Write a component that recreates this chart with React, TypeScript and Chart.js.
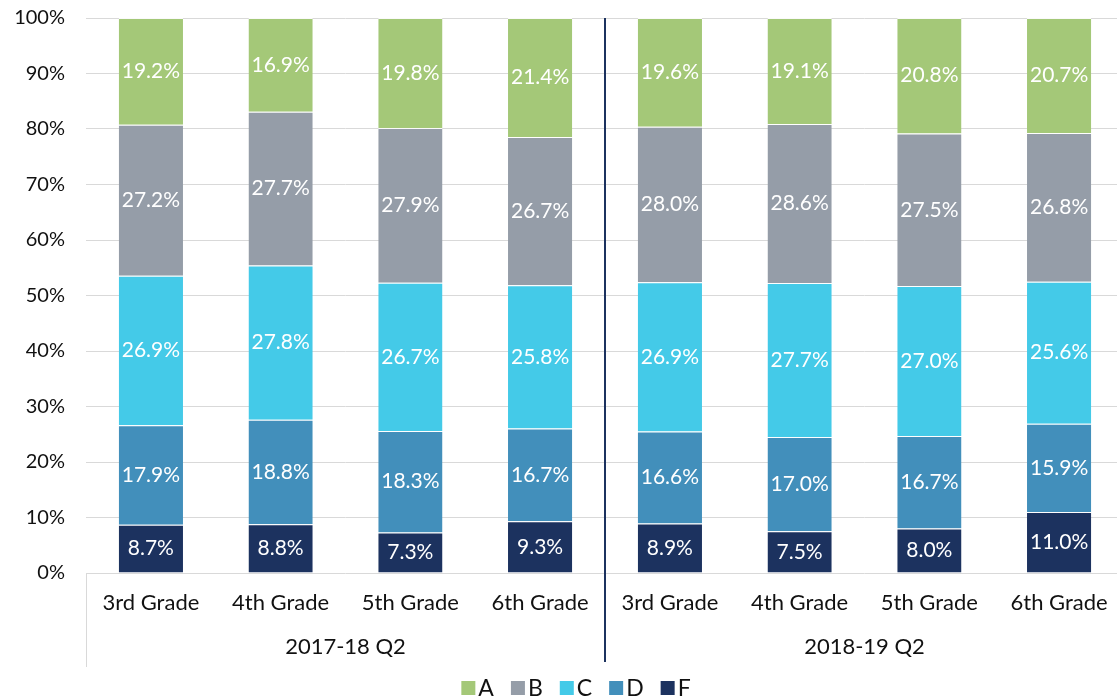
import React, { useEffect, useRef } from "react";
import { Chart, registerables } from "chart.js";

Chart.register(...registerables);

const grades = ["3rd Grade", "4th Grade", "5th Grade", "6th Grade", "3rd Grade", "4th Grade", "5th Grade", "6th Grade"];
const groups = ["2017-18 Q2", "2018-19 Q2"];
const yTicks = [0, 10, 20, 30, 40, 50, 60, 70, 80, 90, 100];

const seriesF = [8.7, 8.8, 7.3, 9.3, 8.9, 7.5, 8.0, 11.0];
const seriesD = [17.9, 18.8, 18.3, 16.7, 16.6, 17.0, 16.7, 15.9];
const seriesC = [26.9, 27.8, 26.7, 25.8, 26.9, 27.7, 27.0, 25.6];
const seriesB = [27.2, 27.7, 27.9, 26.7, 28.0, 28.6, 27.5, 26.8];
const seriesA = [19.2, 16.9, 19.8, 21.4, 19.6, 19.1, 20.8, 20.7];

const FONT = "Lato, 'Open Sans', sans-serif";

const legendItems = [
  { label: "A", color: "#A4C878" },
  { label: "B", color: "#959DA8" },
  { label: "C", color: "#44CAE8" },
  { label: "D", color: "#428FBB" },
  { label: "F", color: "#1C325F" },
];

const allSeries = [seriesF, seriesD, seriesC, seriesB, seriesA];
const totals = grades.map((_, j) => allSeries.reduce((s, arr) => s + arr[j], 0));
const share = (arr: number[]) => arr.map((v, j) => (v / totals[j]) * 100);

const overlayPlugin = {
  id: "overlay",
  afterDatasetsDraw(chart: any) {
    const ctx = chart.ctx;
    ctx.save();
    ctx.font = `21px ${FONT}`;
    ctx.fillStyle = "#ffffff";
    ctx.textAlign = "center";
    ctx.textBaseline = "middle";
    chart.data.datasets.forEach((ds: any, i: number) => {
      const meta = chart.getDatasetMeta(i);
      meta.data.forEach((el: any, j: number) => {
        const v = ds.raw[j];
        const y = (el.y + el.base) / 2;
        ctx.fillText(v.toFixed(1) + "%", el.x, y);
      });
    });
    ctx.restore();
  },
  afterDraw(chart: any) {
    const ctx = chart.ctx;
    const area = chart.chartArea;
    const xs = chart.scales.x;
    ctx.save();
    ctx.strokeStyle = "#d9d9d9";
    ctx.lineWidth = 1;
    ctx.beginPath();
    ctx.moveTo(area.left + 0.5, area.bottom);
    ctx.lineTo(area.left + 0.5, area.bottom + 94);
    ctx.stroke();
    const mid = (xs.getPixelForValue(3) + xs.getPixelForValue(4)) / 2;
    ctx.strokeStyle = "#1C325F";
    ctx.lineWidth = 2;
    ctx.beginPath();
    ctx.moveTo(mid, area.top);
    ctx.lineTo(mid, area.bottom + 89);
    ctx.stroke();
    ctx.font = `22px ${FONT}`;
    ctx.fillStyle = "#111111";
    ctx.textAlign = "center";
    ctx.textBaseline = "middle";
    const g1 = (xs.getPixelForValue(1) + xs.getPixelForValue(2)) / 2;
    const g2 = (xs.getPixelForValue(5) + xs.getPixelForValue(6)) / 2;
    ctx.fillText(groups[0], g1, area.bottom + 74);
    ctx.fillText(groups[1], g2, area.bottom + 74);
    ctx.font = `23px ${FONT}`;
    const box = 14;
    const gapBoxText = 3;
    const gapItem = 17;
    let total = 0;
    legendItems.forEach((it, k) => {
      total += box + gapBoxText + ctx.measureText(it.label).width + (k < legendItems.length - 1 ? gapItem : 0);
    });
    let x = 576 - total / 2;
    const ly = 688;
    ctx.textAlign = "left";
    legendItems.forEach((it) => {
      ctx.fillStyle = it.color;
      ctx.fillRect(x, ly - box / 2, box, box);
      x += box + gapBoxText;
      ctx.fillStyle = "#111111";
      ctx.fillText(it.label, x, ly + 1);
      x += ctx.measureText(it.label).width + gapItem;
    });
    ctx.restore();
  },
};

export default function App() {
  const ref = useRef<HTMLCanvasElement>(null);
  useEffect(() => {
    const canvas = ref.current!;
    const mk = (label: string, data: number[], color: string) => ({
      label,
      data: share(data),
      raw: data,
      backgroundColor: color,
      borderColor: "rgba(255,255,255,0.85)",
      borderWidth: { top: 1, bottom: 0, left: 0, right: 0 },
      borderSkipped: false,
      categoryPercentage: 1,
      barPercentage: 0.495,
    });
    const chart = new Chart(canvas, {
      type: "bar",
      data: {
        labels: grades,
        datasets: [
          mk("F", seriesF, "#1C325F"),
          mk("D", seriesD, "#428FBB"),
          mk("C", seriesC, "#44CAE8"),
          mk("B", seriesB, "#959DA8"),
          mk("A", seriesA, "#A4C878"),
        ],
      },
      options: {
        animation: false,
        responsive: false,
        maintainAspectRatio: false,
        layout: { padding: { top: 18, right: 6, left: 0, bottom: 0 } },
        plugins: {
          legend: { display: false },
          tooltip: { enabled: false },
        },
        scales: {
          x: {
            stacked: true,
            grid: { display: false, drawTicks: false },
            border: { display: false },
            ticks: {
              padding: 17,
              color: "#111111",
              font: { family: FONT, size: 22 },
              maxRotation: 0,
              autoSkip: false,
            },
            afterFit(scale: any) {
              scale.height = 127;
              scale.paddingLeft = 0;
              scale.paddingRight = 0;
            },
          },
          y: {
            stacked: true,
            min: 0,
            max: 100,
            afterBuildTicks(scale: any) {
              scale.ticks = yTicks.map((v) => ({ value: v }));
            },
            grid: { color: "#d9d9d9", lineWidth: 1, drawTicks: false },
            border: { display: false },
            ticks: {
              padding: 21,
              color: "#111111",
              font: { family: FONT, size: 20 },
              callback: (v: any) => v + "%",
            },
            afterFit(scale: any) {
              scale.width = 86;
              scale.paddingTop = 0;
              scale.paddingBottom = 0;
            },
          },
        },
      },
      plugins: [overlayPlugin],
    });
    return () => chart.destroy();
  }, []);
  return (
    <div style={{ position: "fixed", left: 0, top: 0, width: 1117, height: 700, overflow: "hidden", background: "#fff" }}>
      <canvas ref={ref} width={1130} height={700} style={{ position: "absolute", left: 0, top: 0, width: 1130, height: 700 }} />
    </div>
  );
}
